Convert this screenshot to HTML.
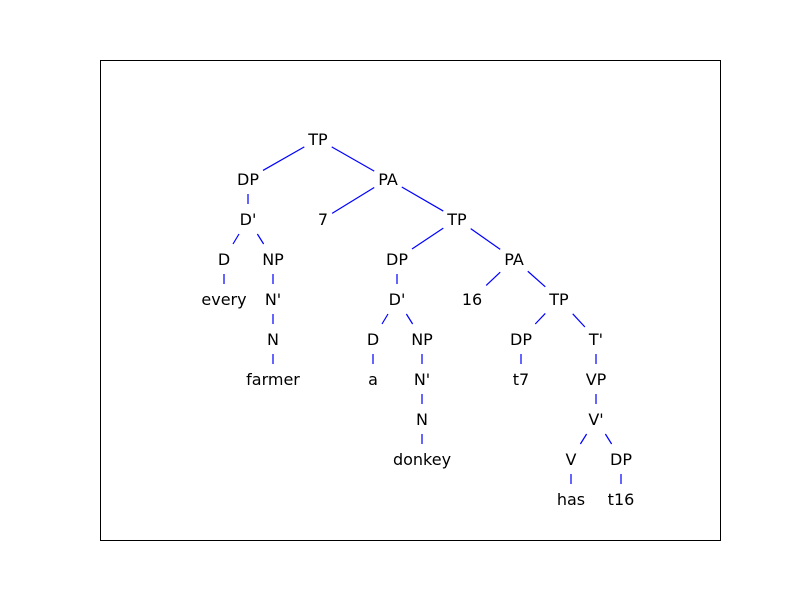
<!DOCTYPE html>
<html><head><meta charset="utf-8"><style>
html,body{margin:0;padding:0;background:#fff;width:800px;height:600px;overflow:hidden}
text{font-family:"DejaVu Sans","Liberation Sans",sans-serif;font-size:16px;fill:#000}
</style></head><body>
<svg id="s" width="800" height="600" xmlns="http://www.w3.org/2000/svg">
<rect x="100.5" y="60.5" width="620" height="480" fill="none" stroke="#000" stroke-width="1"/>
<g id="lines" stroke="#0000ff" stroke-width="1.2"></g>
<g id="labels" text-anchor="middle">
<text x="318" y="145">TP</text>
<text x="248" y="185">DP</text>
<text x="388" y="185">PA</text>
<text x="248" y="225">D'</text>
<text x="323" y="225">7</text>
<text x="457" y="225">TP</text>
<text x="224" y="265">D</text>
<text x="273" y="265">NP</text>
<text x="397" y="265">DP</text>
<text x="514" y="265">PA</text>
<text x="224" y="305">every</text>
<text x="273" y="305">N'</text>
<text x="397" y="305">D'</text>
<text x="472" y="305">16</text>
<text x="559" y="305">TP</text>
<text x="273" y="345">N</text>
<text x="373" y="345">D</text>
<text x="422" y="345">NP</text>
<text x="521" y="345">DP</text>
<text x="596" y="345">T'</text>
<text x="273" y="385">farmer</text>
<text x="373" y="385">a</text>
<text x="422" y="385">N'</text>
<text x="521" y="385">t7</text>
<text x="596" y="385">VP</text>
<text x="422" y="425">N</text>
<text x="596" y="425">V'</text>
<text x="422" y="465">donkey</text>
<text x="571" y="465">V</text>
<text x="621" y="465">DP</text>
<text x="571" y="505">has</text>
<text x="621" y="505">t16</text>
</g>
</svg>
<script>
var E=[[0,1],[0,2],[2,4],[2,5],[1,3],[3,6],[3,7],[5,8],[5,9],[6,10],[7,11],[8,12],[9,13],[9,14],[11,15],[12,16],[12,17],[14,18],[14,19],[15,20],[16,21],[17,22],[18,23],[19,24],[22,25],[24,26],[25,27],[26,28],[26,29],[28,30],[29,31]];
var T=document.querySelectorAll('#labels text'),N=[];
T.forEach(function(t){N.push({x:+t.getAttribute('x'),y:+t.getAttribute('y')-6,w:t.getComputedTextLength()/2+4});});
function clip(a,dx,dy){var tx=dx?a.w/Math.abs(dx):1e9,ty=dy?15/Math.abs(dy):1e9;return Math.min(tx,ty);}
var g=document.getElementById('lines'),h='';
E.forEach(function(e){var a=N[e[0]],b=N[e[1]],dx=b.x-a.x,dy=b.y-a.y;var t0=clip(a,dx,dy),t1=1-clip(b,dx,dy);
h+='<line x1="'+(a.x+dx*t0)+'" y1="'+(a.y+dy*t0)+'" x2="'+(a.x+dx*t1)+'" y2="'+(a.y+dy*t1)+'"/>';});
g.innerHTML=h;
</script>
</body></html>
